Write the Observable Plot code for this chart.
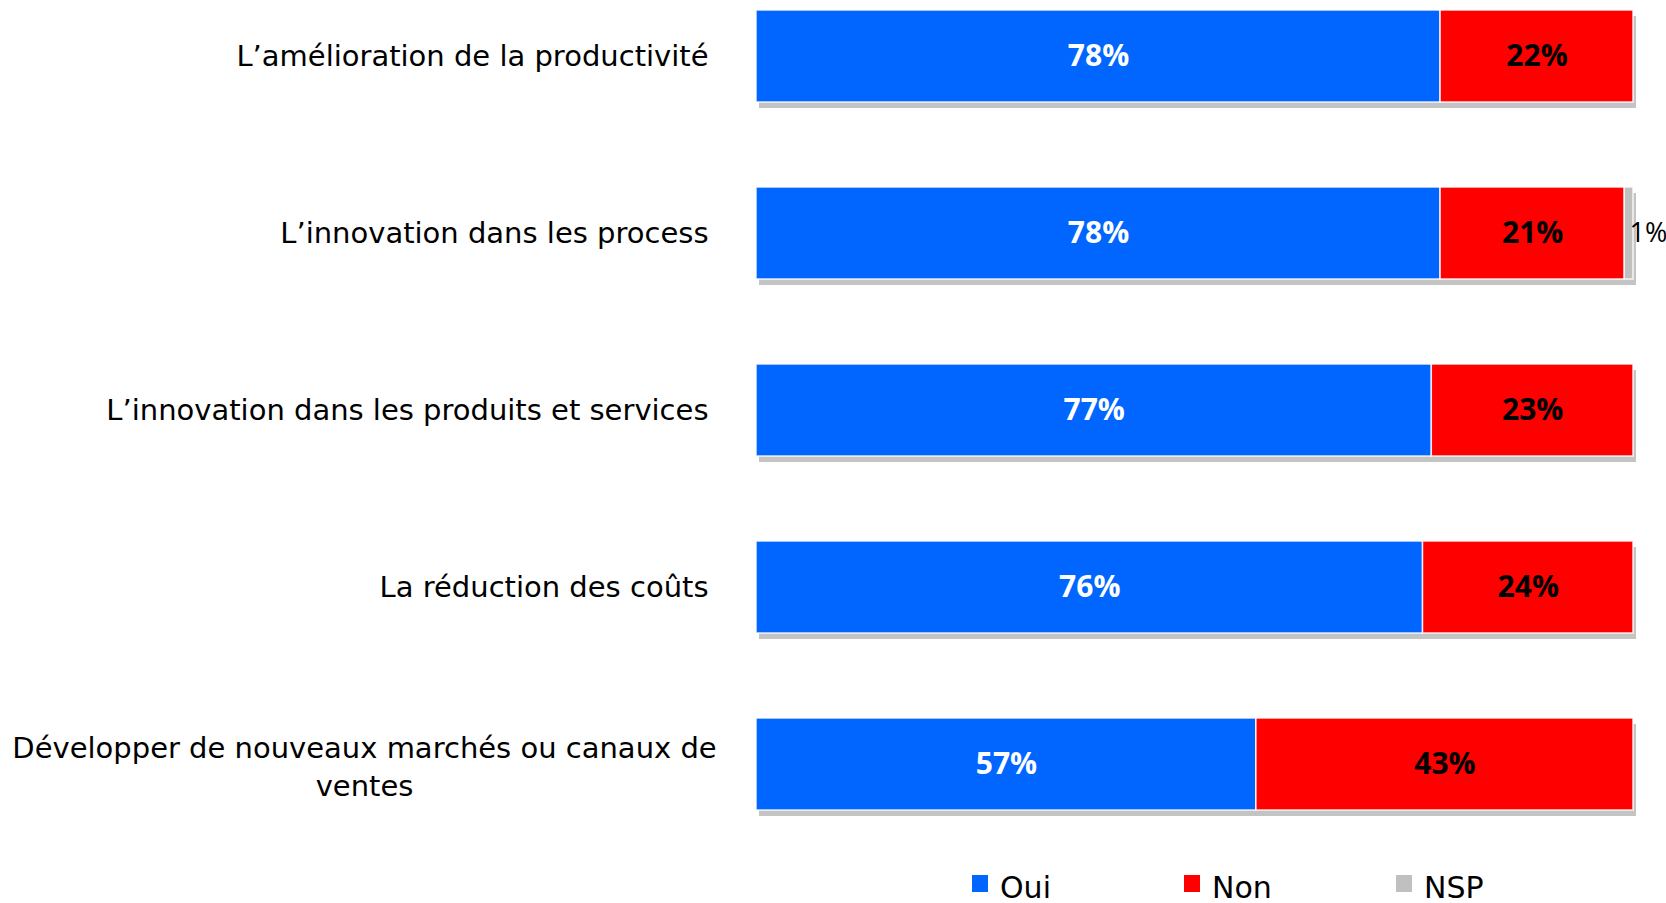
<!DOCTYPE html>
<html><head><meta charset="utf-8">
<script src="https://cdn.jsdelivr.net/npm/d3@7"></script>
<script src="https://cdn.jsdelivr.net/npm/@observablehq/plot@0.6"></script>
<style>
body{margin:0;background:#fff;font-family:"Open Sans",sans-serif;overflow:hidden;}
#legend{position:relative;height:48px;display:flex;padding-left:972px;}
#legend .item{display:flex;align-items:center;width:212px;height:48px;}
#legend .sw{width:16px;height:17px;margin-right:12px;margin-top:8px;}
#legend .lb{font-family:"DejaVu Sans",sans-serif;font-size:30px;color:#000;line-height:48px;margin-top:18px;}
</style></head><body>
<div id="chart"></div>
<div id="legend"></div>
<script>
const categories = [
  "L’amélioration de la productivité",
  "L’innovation dans les process",
  "L’innovation dans les produits et services",
  "La réduction des coûts",
  "Développer de nouveaux marchés ou canaux de ventes"
];
const tickLabels = [
  "L’amélioration de la productivité",
  "L’innovation dans les process",
  "L’innovation dans les produits et services",
  "La réduction des coûts",
  "Développer de nouveaux marchés ou canaux de\nventes"
];
const series = ["Oui", "Non", "NSP"];
const oui = [78, 78, 77, 76, 57];
const non = [22, 21, 23, 24, 43];
const nsp = [0, 1, 0, 0, 0];
const colors = ["#0066FF", "#FF0000", "#C0C0C0"];

const values = [oui, non, nsp];
const rows = categories.flatMap((c, i) => {
  let acc = 0;
  return series.map((s, j) => {
    const v = values[j][i];
    const r = {cat: c, series: s, value: v, x1: acc, x2: acc + v};
    acc += v;
    return r;
  });
}).filter(d => d.value > 0);
const totals = categories.map((c, i) => ({cat: c, total: oui[i] + non[i] + nsp[i]}));
const labels = categories.map((c, i) => ({cat: c, label: tickLabels[i]}));

const plot = Plot.plot({
  width: 1666,
  height: 855,
  marginLeft: 756,
  marginRight: 33,
  marginTop: 9,
  marginBottom: 43,
  x: {domain: [0, 100], axis: null},
  y: {domain: categories, axis: null, paddingInner: 0.48, paddingOuter: 0},
  color: {domain: series, range: colors},
  style: {fontFamily: "Open Sans, sans-serif", background: "white"},
  marks: [
    Plot.barX(totals, {x1: 0, x2: "total", y: "cat", fill: "#c4c4c4", dx: 3, dy: 6}),
    Plot.barX(rows, {x1: "x1", x2: "x2", y: "cat", fill: "series", stroke: "white", strokeWidth: 1.5, strokeOpacity: 0.85}),
    Plot.text(rows.filter(d => d.series === "Oui"), {x: d => (d.x1 + d.x2) / 2, y: "cat", text: d => d.value + "%", fill: "white", fontWeight: "bold", fontSize: 30}),
    Plot.text(rows.filter(d => d.series === "Non"), {x: d => (d.x1 + d.x2) / 2, y: "cat", text: d => d.value + "%", fill: "black", fontWeight: "bold", fontSize: 30}),
    Plot.text(rows.filter(d => d.series === "NSP"), {x: "x2", y: "cat", text: d => d.value + "%", fill: "black", fontSize: 27, textAnchor: "start", dx: -4}),
    Plot.text(labels.filter(d => !d.label.includes("\n")), {y: "cat", text: "label", frameAnchor: "left", textAnchor: "end", dx: -48, fontSize: 29, fontFamily: "DejaVu Sans, sans-serif", fill: "black"}),
    Plot.text(labels.filter(d => d.label.includes("\n")), {y: "cat", text: "label", frameAnchor: "left", textAnchor: "middle", dx: -392, fontSize: 29, fontFamily: "DejaVu Sans, sans-serif", lineHeight: 1.32, fill: "black"})
  ]
});
document.getElementById("chart").appendChild(plot);

const leg = document.getElementById("legend");
series.forEach((s, j) => {
  const it = document.createElement("div");
  it.className = "item";
  it.innerHTML = `<span class="sw" style="background:${colors[j]}"></span><span class="lb">${s}</span>`;
  leg.appendChild(it);
});
</script>
</body></html>
